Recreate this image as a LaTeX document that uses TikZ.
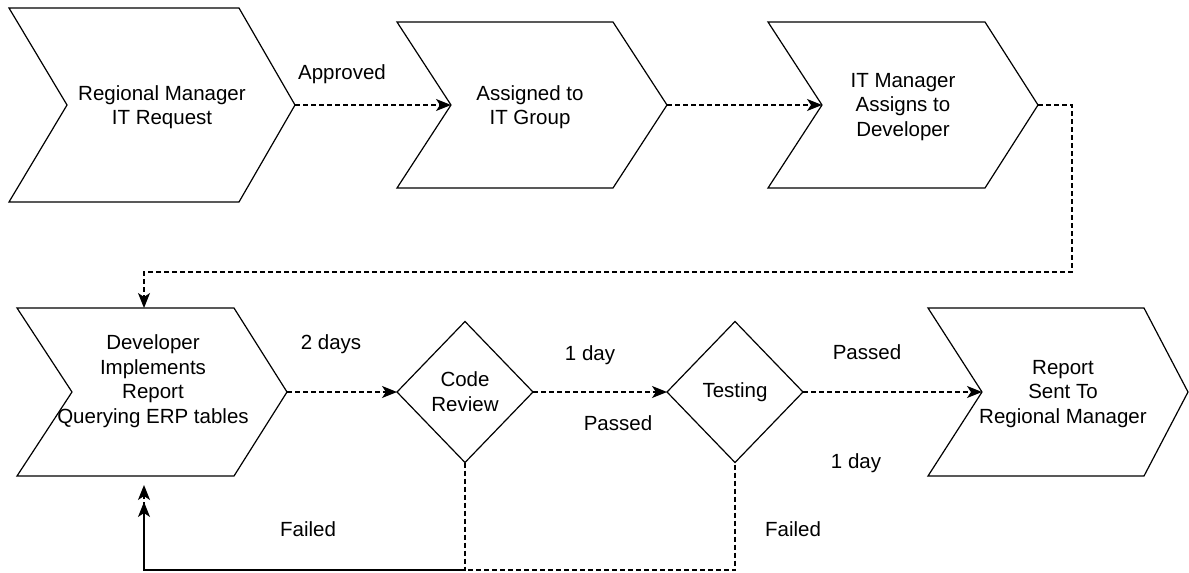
\documentclass[tikz,border=0pt]{standalone}
\usepackage{fontspec}
\setmainfont{Liberation Sans}
\usetikzlibrary{arrows.meta,shapes.geometric}

\tikzset{
  outline/.style={draw=black, line width=1.2pt, line join=miter},
  caption/.style={align=center, font=\fontsize{20.5}{24.5}\selectfont, inner sep=0pt},
  decision/.style={diamond, draw=black, line width=1.2pt, minimum width=136pt,
    minimum height=141pt, inner sep=0pt, outer sep=0pt, align=center,
    font=\fontsize{20.5}{25}\selectfont},
  flow/.style={line width=1.2pt, dash pattern=on 5pt off 3pt,
    -{Stealth[length=15pt,width=12pt,inset=4pt]}},
  tag/.style={font=\fontsize{20.5}{24}\selectfont, anchor=base, inner sep=0pt},
}

% chevron outline: name, left, top, right, bottom, notch depth, tip depth
\newcommand\chevron[7]{%
  \draw[outline] (#2,#3) -- ({#4-#7},#3) -- (#4,{(#3+#5)/2}) -- ({#4-#7},#5)
    -- (#2,#5) -- ({#2+#6},{(#3+#5)/2}) -- cycle;
  \coordinate (#1-in) at ({#2+#6},{(#3+#5)/2});
  \coordinate (#1-tip) at (#4,{(#3+#5)/2});
}

\begin{document}
\begin{tikzpicture}[x=1pt,y=-1pt]
  \fill[white] (0,0) rectangle (1189,573);
  \useasboundingbox (0,0) rectangle (1189,573);

  % process steps
  \chevron{c1}{9}{8}{295}{202}{58}{56}
  \chevron{c2}{397}{22}{667}{188}{54}{54}
  \chevron{c3}{768}{22}{1038}{188}{54}{53}
  \chevron{c4}{17}{308}{287}{476}{55}{53}
  \chevron{c5}{928}{308}{1188}{476}{54}{44}

  \node[caption] (t1) at (162,107) {Regional Manager\\IT Request};
  \node[caption] (t2) at (530,107) {Assigned to\\IT Group};
  \node[caption] (t3) at (903,107) {IT Manager\\Assigns to\\Developer};
  \node[caption] (t4) at (153,381) {Developer\\Implements\\Report\\Querying ERP tables};
  \node[caption] (t5) at (1063,394) {Report\\Sent To\\Regional Manager};

  % decisions
  \node[decision] (cr) at (465,392) {Code\\Review};
  \node[decision] (ts) at (735,392) {Testing};

  % routing points
  \coordinate (c4-top) at (144,308);
  \coordinate (bend) at (1072,272);
  \coordinate (low) at (144,570);
  \coordinate (failA) at (144,485);
  \coordinate (failB) at (144,502);

  % connectors
  \draw[flow] (c1-tip) -- (c2-in);
  \draw[flow] (c2-tip) -- (c3-in);
  \draw[flow] (c3-tip) -| (bend) -| (c4-top);
  \draw[flow] (c4-tip) -- (cr.west);
  \draw[flow] (cr.east) -- (ts.west);
  \draw[flow] (ts.east) -- (c5-in);
  \draw[flow] (cr.south) |- (low) -- (failB);
  \draw[flow, dash phase=6pt] (ts.south) |- (low) -- (failA);

  % connector labels
  \node[tag] (l1) at (342,79) {Approved};
  \node[tag] (l2) at (331,349) {2 days};
  \node[tag] (l3) at (590,360) {1 day};
  \node[tag] (l4) at (618,430) {Passed};
  \node[tag] (l5) at (867,359) {Passed};
  \node[tag] (l6) at (856,468) {1 day};
  \node[tag] (l7) at (308,536) {Failed};
  \node[tag] (l8) at (793,536) {Failed};
\end{tikzpicture}
\end{document}
